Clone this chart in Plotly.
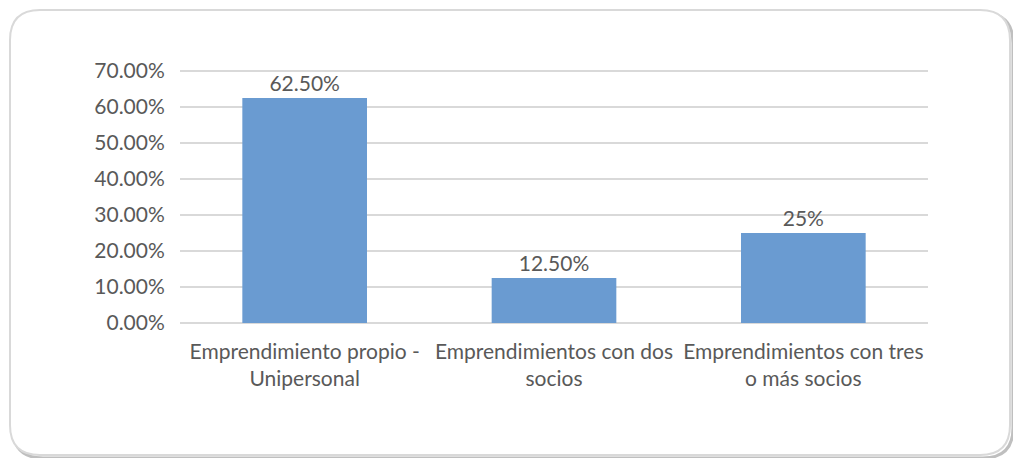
import plotly.graph_objects as go

categories = ["Emprendimiento propio -<br>Unipersonal",
              "Emprendimientos con dos<br>socios",
              "Emprendimientos con tres<br>o más socios"]
values = [0.625, 0.125, 0.25]
value_labels = ["62.50%", "12.50%", "25%"]
y_ticks = [0, 0.1, 0.2, 0.3, 0.4, 0.5, 0.6, 0.7]

W, H = 1013, 458
L, R, T, B = 180, 85, 70, 135
pw, ph = W - L - R, H - T - B

def px(x):
    return (x - L) / pw

def py(y):
    return (H - B - y) / ph

def rounded(x0, y0, x1, y1, r):
    rx, ry = r / pw, r / ph
    X0, X1 = px(x0), px(x1)
    Y0, Y1 = py(y0), py(y1)  # Y0 top, Y1 bottom
    return (f"M {X0+rx},{Y0} L {X1-rx},{Y0} Q {X1},{Y0} {X1},{Y0-ry} "
            f"L {X1},{Y1+ry} Q {X1},{Y1} {X1-rx},{Y1} "
            f"L {X0+rx},{Y1} Q {X0},{Y1} {X0},{Y1+ry} "
            f"L {X0},{Y0-ry} Q {X0},{Y0} {X0+rx},{Y0} Z")

font = "Lato, Open Sans, sans-serif"
fs = 21
col = "#595959"

fig = go.Figure(go.Bar(
    x=categories, y=values,
    text=value_labels, textposition="outside",
    textfont=dict(size=fs, color=col, family=font),
    marker=dict(color="#6A9BD1", line=dict(width=0)),
    cliponaxis=False,
))

fig.update_layout(
    width=W, height=H,
    margin=dict(l=L, r=R, t=T, b=B),
    paper_bgcolor="white", plot_bgcolor="white",
    bargap=0.5,
    showlegend=False,
    font=dict(family=font, size=fs, color=col),
    xaxis=dict(showgrid=False, showline=False, ticks="",
               ticklabelstandoff=14,
               tickfont=dict(size=fs, color=col)),
    yaxis=dict(range=[0, 0.703], tickvals=y_ticks, tickformat=".2%",
               showgrid=True, gridcolor="#D9D9D9", gridwidth=1.5,
               zeroline=True, zerolinecolor="#D9D9D9", zerolinewidth=1.5,
               ticks="outside", ticklen=10, tickcolor="rgba(0,0,0,0)",
               tickfont=dict(size=fs, color=col)),
    shapes=[
        dict(type="path", xref="paper", yref="paper",
             path=rounded(13, 13, 1013, 458, 30),
             line=dict(color="#BFBFBF", width=3), fillcolor="rgba(0,0,0,0)", layer="below"),
        dict(type="path", xref="paper", yref="paper",
             path=rounded(10, 10, 1010, 455, 30),
             line=dict(color="#D9D9D9", width=2), fillcolor="white", layer="below"),
    ],
)

fig.write_html("out.html")
